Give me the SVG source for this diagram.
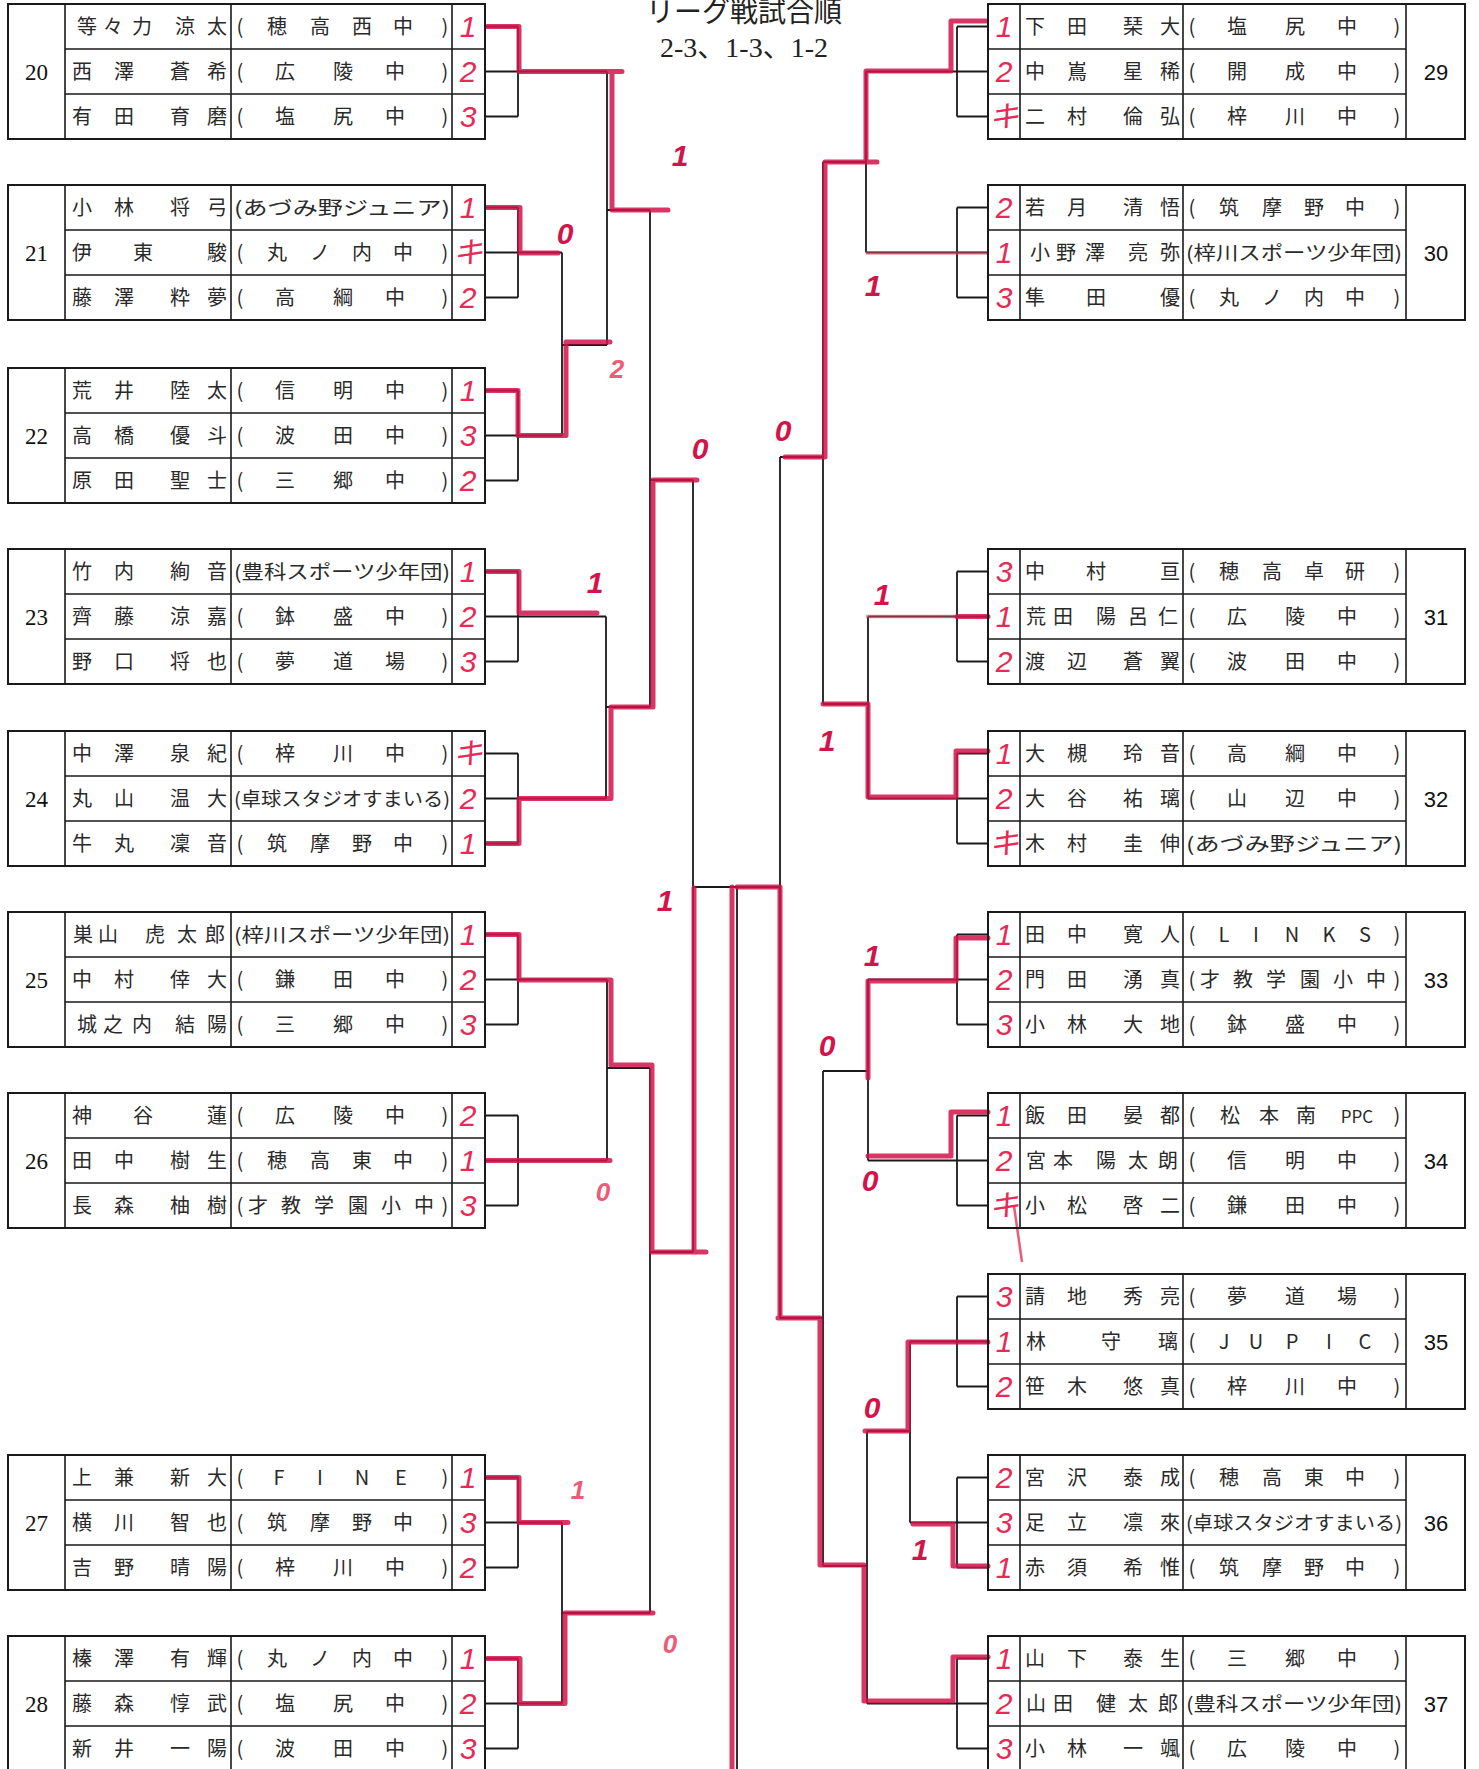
<svg xmlns="http://www.w3.org/2000/svg" xmlns:xlink="http://www.w3.org/1999/xlink" width="1479" height="1769" viewBox="0 0 1479 1769">
<style>
.tb{fill:none;stroke:#1a1a1a;stroke-width:2}
.ln{fill:none;stroke:#1a1a1a;stroke-width:1.6}
.nm{font-family:"Noto Sans CJK JP","Noto Sans CJK SC",sans-serif;font-size:20px;fill:#2a2a2a;text-anchor:middle}
.lg{font-family:"Noto Sans CJK JP","Noto Sans CJK SC",sans-serif;font-size:19px;fill:#2a2a2a}
.nl{font-family:"Liberation Serif",serif;font-size:23px;fill:#111;text-anchor:middle}
.nr{font-family:"Liberation Sans",sans-serif;font-size:22px;fill:#111;text-anchor:middle}
.sc{font-family:"Liberation Sans","Noto Sans CJK JP",sans-serif;font-size:30px;font-style:italic;fill:#e62a55;text-anchor:middle}
.lb{font-family:"Liberation Sans",sans-serif;font-size:30px;font-weight:bold;font-style:italic;fill:#d3134a;text-anchor:middle}
.lp{font-family:"Liberation Sans",sans-serif;font-size:26px;font-weight:bold;font-style:italic;fill:#ec5b78;text-anchor:middle}
.br{fill:none;stroke:#1a1a1a;stroke-width:1.8}
.rd{fill:none;stroke:#d3134a;stroke-width:5;stroke-linejoin:round;stroke-linecap:round;opacity:.85}
.rt{fill:none;stroke:#d84a5e;stroke-width:3.5;opacity:.55}
.ttl{font-family:"Noto Sans CJK JP",sans-serif;font-size:28px;fill:#222;text-anchor:middle}
.ttn{font-family:"Liberation Serif","Noto Sans CJK JP",serif;font-size:28px;fill:#222;text-anchor:middle}
</style>
<defs>
<g id="frameL"><rect class="tb" x="8" y="0" width="477" height="135"/><path class="ln" d="M65,0V135M231,0V135M452,0V135M65,45H485M65,90H485"/></g>
<g id="frameR"><rect class="tb" x="988" y="0" width="477" height="135"/><path class="ln" d="M1020,0V135M1183,0V135M1406,0V135M988,45H1406M988,90H1406"/></g>
</defs>
<rect width="1479" height="1769" fill="#fff"/>
<g id="title">
<text class="ttl" x="744" y="22">リーグ戦試合順</text>
<text class="ttn" x="744" y="57">2-3、1-3、1-2</text>
</g>

<g id="connectors">
<path class="br" d="M485,26.5H518M485,71.5H518M485,116.5H518M518,26.5V116.5
M485,207.5H518M485,252.5H518M485,297.5H518M518,207.5V297.5
M485,390.5H518M485,435.5H518M485,480.5H518M518,390.5V480.5
M485,571.5H518M485,616.5H518M485,661.5H518M518,571.5V661.5
M485,753.5H518M485,798.5H518M485,843.5H518M518,753.5V843.5
M485,934.5H518M485,979.5H518M485,1024.5H518M518,934.5V1024.5
M485,1115.5H518M485,1160.5H518M485,1205.5H518M518,1115.5V1205.5
M485,1477.5H518M485,1522.5H518M485,1567.5H518M518,1477.5V1567.5
M485,1658.5H518M485,1703.5H518M485,1748.5H518M518,1658.5V1748.5"/>
<path class="br" d="M957,26.5H988M957,71.5H988M957,116.5H988M957,26.5V116.5
M957,207.5H988M957,252.5H988M957,297.5H988M957,207.5V297.5
M957,571.5H988M957,616.5H988M957,661.5H988M957,571.5V661.5
M957,753.5H988M957,798.5H988M957,843.5H988M957,753.5V843.5
M957,934.5H988M957,979.5H988M957,1024.5H988M957,934.5V1024.5
M957,1115.5H988M957,1160.5H988M957,1205.5H988M957,1115.5V1205.5
M957,1296.5H988M957,1341.5H988M957,1386.5H988M957,1296.5V1386.5
M957,1477.5H988M957,1522.5H988M957,1567.5H988M957,1477.5V1567.5
M957,1658.5H988M957,1703.5H988M957,1748.5H988M957,1658.5V1748.5"/>
<path class="br" d="M518,71.5H607M518,252.5H562M518,435.5H562M562,252.5V435.5M562,345H607M607,71.5V345M607,210H650
M518,616.5H606M518,798.5H606M606,616.5V798.5M606,707H650M650,210V707M650,480H693
M518,979.5H607M518,1160.5H607M607,979.5V1160.5M607,1068H650
M518,1522.5H562M518,1703.5H562M562,1522.5V1703.5M562,1613H650M650,1068V1613M650,1252H693
M693,480V1252M693,887H780M737,887V1769"/>
<path class="br" d="M957,71.5H866M957,252.5H866M866,71.5V252.5M866,162H823
M957,616.5H868M957,798.5H868M868,616.5V798.5M868,704H823M823,162V704M823,457H780
M957,979.5H868M957,1160.5H868M868,979.5V1160.5M868,1071H823
M957,1341.5H910M957,1522.5H910M910,1341.5V1522.5M910,1431H867
M957,1703.5H867M867,1431V1703.5M867,1566H823M823,1071V1566M823,1318H780M780,457V1318"/>
</g>

<g id="results">
<path class="rd" d="M487,26.5H519V71.5H622M612,72V210H668"/>
<path class="rd" d="M487,207.5H520V253H558"/>
<path class="rd" d="M487,390.5H518V435.5H566V342H610"/>
<path class="rd" d="M487,571.5H519V613H597"/>
<path class="rd" d="M487,843.5H519V798.5H611V707H653V480H697"/>
<path class="rd" d="M487,934.5H519V980H611V1065H652V1252H706M694,1252V888"/>
<path class="rd" d="M487,1160.5H610"/>
<path class="rd" d="M487,1477.5H519V1522.5H568"/>
<path class="rd" d="M487,1658.5H520V1703.5H565V1613H653"/>
<path class="rd" d="M986,21H951V71H866V162H825V457H785M866,162H877"/>
<path class="rt" d="M866,253H988"/>
<path class="rt" d="M866,616.5H957"/>
<path class="rd" d="M988,616.5H957"/>
<path class="rd" d="M988,751H956V797H868V704H823"/>
<path class="rd" d="M988,938H956V981H868V1078"/>
<path class="rd" d="M988,1112H951V1156H868"/>
<path class="rd" d="M988,1342H908V1431H865"/>
<path class="rd" d="M988,1566H953V1524H913"/>
<path class="rd" d="M988,1657H953V1701H864V1565H820V1318H778M780,1318V887H737M732,887V1769"/>
<path d="M1014,1206L1022,1262" stroke="#ec5b78" stroke-width="2.5" fill="none"/>
</g>

<g id="labels">
<text class="lb" x="680" y="166">1</text>
<text class="lb" x="565" y="244">0</text>
<text class="lp" x="617" y="378">2</text>
<text class="lb" x="700" y="459">0</text>
<text class="lb" x="595" y="593">1</text>
<text class="lb" x="665" y="911">1</text>
<text class="lp" x="603" y="1201">0</text>
<text class="lp" x="578" y="1499">1</text>
<text class="lp" x="670" y="1653">0</text>
<text class="lb" x="873" y="296">1</text>
<text class="lb" x="783" y="441">0</text>
<text class="lb" x="882" y="605">1</text>
<text class="lb" x="827" y="751">1</text>
<text class="lb" x="872" y="966">1</text>
<text class="lb" x="827" y="1056">0</text>
<text class="lb" x="870" y="1191">0</text>
<text class="lb" x="872" y="1418">0</text>
<text class="lb" x="920" y="1560">1</text>
</g>

<g id="t20" transform="translate(0,4)">
<use xlink:href="#frameL"/>
<text class="nl" x="36.5" y="75.5">20</text>
<text class="nm" x="87 113 142 185 217" y="29.5">等々力涼太</text>
<text class="nm" x="82 124 180 217" y="74.5">西澤蒼希</text>
<text class="nm" x="82 124 180 217" y="119.5">有田育磨</text>
<text class="nm" x="240 277 320 362 403 445" y="29.5">(穂高西中)</text>
<text class="nm" x="240 285 343 395 445" y="74.5">(広陵中)</text>
<text class="nm" x="240 285 343 395 445" y="119.5">(塩尻中)</text>
<text class="sc" x="468" y="33">1</text><text class="sc" x="468" y="78">2</text><text class="sc" x="468" y="123">3</text>
</g>

<g id="t21" transform="translate(0,185)">
<use xlink:href="#frameL"/>
<text class="nl" x="36.5" y="75.5">21</text>
<text class="nm" x="82 124 180 217" y="29.5">小林将弓</text>
<text class="nm" x="82 143 217" y="74.5">伊東駿</text>
<text class="nm" x="82 124 180 217" y="119.5">藤澤粋夢</text>
<text class="lg" x="234" y="29.5" textLength="216" lengthAdjust="spacingAndGlyphs">(あづみ野ジュニア)</text>
<text class="nm" x="240 277 320 362 403 445" y="74.5">(丸ノ内中)</text>
<text class="nm" x="240 285 343 395 445" y="119.5">(高綱中)</text>
<text class="sc" x="468" y="33">1</text><text class="sc" x="468" y="78">キ</text><text class="sc" x="468" y="123">2</text>
</g>

<g id="t22" transform="translate(0,368)">
<use xlink:href="#frameL"/>
<text class="nl" x="36.5" y="75.5">22</text>
<text class="nm" x="82 124 180 217" y="29.5">荒井陸太</text>
<text class="nm" x="82 124 180 217" y="74.5">高橋優斗</text>
<text class="nm" x="82 124 180 217" y="119.5">原田聖士</text>
<text class="nm" x="240 285 343 395 445" y="29.5">(信明中)</text>
<text class="nm" x="240 285 343 395 445" y="74.5">(波田中)</text>
<text class="nm" x="240 285 343 395 445" y="119.5">(三郷中)</text>
<text class="sc" x="468" y="33">1</text><text class="sc" x="468" y="78">3</text><text class="sc" x="468" y="123">2</text>
</g>

<g id="t23" transform="translate(0,549)">
<use xlink:href="#frameL"/>
<text class="nl" x="36.5" y="75.5">23</text>
<text class="nm" x="82 124 180 217" y="29.5">竹内絢音</text>
<text class="nm" x="82 124 180 217" y="74.5">齊藤涼嘉</text>
<text class="nm" x="82 124 180 217" y="119.5">野口将也</text>
<text class="lg" x="234" y="29.5" textLength="216" lengthAdjust="spacingAndGlyphs">(豊科スポーツ少年団)</text>
<text class="nm" x="240 285 343 395 445" y="74.5">(鉢盛中)</text>
<text class="nm" x="240 285 343 395 445" y="119.5">(夢道場)</text>
<text class="sc" x="468" y="33">1</text><text class="sc" x="468" y="78">2</text><text class="sc" x="468" y="123">3</text>
</g>

<g id="t24" transform="translate(0,731)">
<use xlink:href="#frameL"/>
<text class="nl" x="36.5" y="75.5">24</text>
<text class="nm" x="82 124 180 217" y="29.5">中澤泉紀</text>
<text class="nm" x="82 124 180 217" y="74.5">丸山温大</text>
<text class="nm" x="82 124 180 217" y="119.5">牛丸凜音</text>
<text class="nm" x="240 285 343 395 445" y="29.5">(梓川中)</text>
<text class="lg" x="234" y="74.5" textLength="216" lengthAdjust="spacingAndGlyphs">(卓球スタジオすまいる)</text>
<text class="nm" x="240 277 320 362 403 445" y="119.5">(筑摩野中)</text>
<text class="sc" x="468" y="33">キ</text><text class="sc" x="468" y="78">2</text><text class="sc" x="468" y="123">1</text>
</g>

<g id="t25" transform="translate(0,912)">
<use xlink:href="#frameL"/>
<text class="nl" x="36.5" y="75.5">25</text>
<text class="nm" x="83 108 155 187 215" y="29.5">巣山虎太郎</text>
<text class="nm" x="82 124 180 217" y="74.5">中村倖大</text>
<text class="nm" x="87 113 142 185 217" y="119.5">城之内結陽</text>
<text class="lg" x="234" y="29.5" textLength="216" lengthAdjust="spacingAndGlyphs">(梓川スポーツ少年団)</text>
<text class="nm" x="240 285 343 395 445" y="74.5">(鎌田中)</text>
<text class="nm" x="240 285 343 395 445" y="119.5">(三郷中)</text>
<text class="sc" x="468" y="33">1</text><text class="sc" x="468" y="78">2</text><text class="sc" x="468" y="123">3</text>
</g>

<g id="t26" transform="translate(0,1093)">
<use xlink:href="#frameL"/>
<text class="nl" x="36.5" y="75.5">26</text>
<text class="nm" x="82 143 217" y="29.5">神谷蓮</text>
<text class="nm" x="82 124 180 217" y="74.5">田中樹生</text>
<text class="nm" x="82 124 180 217" y="119.5">長森柚樹</text>
<text class="nm" x="240 285 343 395 445" y="29.5">(広陵中)</text>
<text class="nm" x="240 277 320 362 403 445" y="74.5">(穂高東中)</text>
<text class="nm" x="240 258 291 324 358 391 424 445" y="119.5">(才教学園小中)</text>
<text class="sc" x="468" y="33">2</text><text class="sc" x="468" y="78">1</text><text class="sc" x="468" y="123">3</text>
</g>

<g id="t27" transform="translate(0,1455)">
<use xlink:href="#frameL"/>
<text class="nl" x="36.5" y="75.5">27</text>
<text class="nm" x="82 124 180 217" y="29.5">上兼新大</text>
<text class="nm" x="82 124 180 217" y="74.5">横川智也</text>
<text class="nm" x="82 124 180 217" y="119.5">吉野晴陽</text>
<text class="nm" x="240 279 320 362 401 445" y="29.5">(FINE)</text>
<text class="nm" x="240 277 320 362 403 445" y="74.5">(筑摩野中)</text>
<text class="nm" x="240 285 343 395 445" y="119.5">(梓川中)</text>
<text class="sc" x="468" y="33">1</text><text class="sc" x="468" y="78">3</text><text class="sc" x="468" y="123">2</text>
</g>

<g id="t28" transform="translate(0,1636)">
<use xlink:href="#frameL"/>
<text class="nl" x="36.5" y="75.5">28</text>
<text class="nm" x="82 124 180 217" y="29.5">榛澤有輝</text>
<text class="nm" x="82 124 180 217" y="74.5">藤森惇武</text>
<text class="nm" x="82 124 180 217" y="119.5">新井一陽</text>
<text class="nm" x="240 277 320 362 403 445" y="29.5">(丸ノ内中)</text>
<text class="nm" x="240 285 343 395 445" y="74.5">(塩尻中)</text>
<text class="nm" x="240 285 343 395 445" y="119.5">(波田中)</text>
<text class="sc" x="468" y="33">1</text><text class="sc" x="468" y="78">2</text><text class="sc" x="468" y="123">3</text>
</g>

<g id="t29" transform="translate(0,4)">
<use xlink:href="#frameR"/>
<text class="nr" x="1436" y="75.5">29</text>
<text class="nm" x="1035 1077 1133 1170" y="29.5">下田琹大</text>
<text class="nm" x="1035 1077 1133 1170" y="74.5">中嶌星稀</text>
<text class="nm" x="1035 1077 1133 1170" y="119.5">二村倫弘</text>
<text class="nm" x="1192 1237 1295 1347 1397" y="29.5">(塩尻中)</text>
<text class="nm" x="1192 1237 1295 1347 1397" y="74.5">(開成中)</text>
<text class="nm" x="1192 1237 1295 1347 1397" y="119.5">(梓川中)</text>
<text class="sc" x="1004" y="33">1</text><text class="sc" x="1004" y="78">2</text><text class="sc" x="1004" y="123">キ</text>
</g>

<g id="t30" transform="translate(0,185)">
<use xlink:href="#frameR"/>
<text class="nr" x="1436" y="75.5">30</text>
<text class="nm" x="1035 1077 1133 1170" y="29.5">若月清悟</text>
<text class="nm" x="1040 1066 1095 1138 1170" y="74.5">小野澤亮弥</text>
<text class="nm" x="1035 1096 1170" y="119.5">隼田優</text>
<text class="nm" x="1192 1229 1272 1314 1355 1397" y="29.5">(筑摩野中)</text>
<text class="lg" x="1186" y="74.5" textLength="216" lengthAdjust="spacingAndGlyphs">(梓川スポーツ少年団)</text>
<text class="nm" x="1192 1229 1272 1314 1355 1397" y="119.5">(丸ノ内中)</text>
<text class="sc" x="1004" y="33">2</text><text class="sc" x="1004" y="78">1</text><text class="sc" x="1004" y="123">3</text>
</g>

<g id="t31" transform="translate(0,549)">
<use xlink:href="#frameR"/>
<text class="nr" x="1436" y="75.5">31</text>
<text class="nm" x="1035 1096 1170" y="29.5">中村亘</text>
<text class="nm" x="1036 1063 1106 1138 1168" y="74.5">荒田陽呂仁</text>
<text class="nm" x="1035 1077 1133 1170" y="119.5">渡辺蒼翼</text>
<text class="nm" x="1192 1229 1272 1314 1355 1397" y="29.5">(穂高卓研)</text>
<text class="nm" x="1192 1237 1295 1347 1397" y="74.5">(広陵中)</text>
<text class="nm" x="1192 1237 1295 1347 1397" y="119.5">(波田中)</text>
<text class="sc" x="1004" y="33">3</text><text class="sc" x="1004" y="78">1</text><text class="sc" x="1004" y="123">2</text>
</g>

<g id="t32" transform="translate(0,731)">
<use xlink:href="#frameR"/>
<text class="nr" x="1436" y="75.5">32</text>
<text class="nm" x="1035 1077 1133 1170" y="29.5">大槻玲音</text>
<text class="nm" x="1035 1077 1133 1170" y="74.5">大谷祐璃</text>
<text class="nm" x="1035 1077 1133 1170" y="119.5">木村圭伸</text>
<text class="nm" x="1192 1237 1295 1347 1397" y="29.5">(高綱中)</text>
<text class="nm" x="1192 1237 1295 1347 1397" y="74.5">(山辺中)</text>
<text class="lg" x="1186" y="119.5" textLength="216" lengthAdjust="spacingAndGlyphs">(あづみ野ジュニア)</text>
<text class="sc" x="1004" y="33">1</text><text class="sc" x="1004" y="78">2</text><text class="sc" x="1004" y="123">キ</text>
</g>

<g id="t33" transform="translate(0,912)">
<use xlink:href="#frameR"/>
<text class="nr" x="1436" y="75.5">33</text>
<text class="nm" x="1035 1077 1133 1170" y="29.5">田中寛人</text>
<text class="nm" x="1035 1077 1133 1170" y="74.5">門田湧真</text>
<text class="nm" x="1035 1077 1133 1170" y="119.5">小林大地</text>
<text class="nm" x="1192 1224 1256 1292 1329 1365 1397" y="29.5">(LINKS)</text>
<text class="nm" x="1192 1210 1243 1276 1310 1343 1376 1397" y="74.5">(才教学園小中)</text>
<text class="nm" x="1192 1237 1295 1347 1397" y="119.5">(鉢盛中)</text>
<text class="sc" x="1004" y="33">1</text><text class="sc" x="1004" y="78">2</text><text class="sc" x="1004" y="123">3</text>
</g>

<g id="t34" transform="translate(0,1093)">
<use xlink:href="#frameR"/>
<text class="nr" x="1436" y="75.5">34</text>
<text class="nm" x="1035 1077 1133 1170" y="29.5">飯田晏都</text>
<text class="nm" x="1036 1063 1106 1138 1168" y="74.5">宮本陽太朗</text>
<text class="nm" x="1035 1077 1133 1170" y="119.5">小松啓二</text>
<text class="nm" y="29.5"><tspan x="1192">(</tspan><tspan x="1230">松</tspan><tspan x="1269">本</tspan><tspan x="1306">南</tspan><tspan x="1357" style="font-size:17px">PPC</tspan><tspan x="1397">)</tspan></text>
<text class="nm" x="1192 1237 1295 1347 1397" y="74.5">(信明中)</text>
<text class="nm" x="1192 1237 1295 1347 1397" y="119.5">(鎌田中)</text>
<text class="sc" x="1004" y="33">1</text><text class="sc" x="1004" y="78">2</text><text class="sc" x="1004" y="123">キ</text>
</g>

<g id="t35" transform="translate(0,1274)">
<use xlink:href="#frameR"/>
<text class="nr" x="1436" y="75.5">35</text>
<text class="nm" x="1035 1077 1133 1170" y="29.5">請地秀亮</text>
<text class="nm" x="1036 1111 1168" y="74.5">林守璃</text>
<text class="nm" x="1035 1077 1133 1170" y="119.5">笹木悠真</text>
<text class="nm" x="1192 1237 1295 1347 1397" y="29.5">(夢道場)</text>
<text class="nm" x="1192 1224 1256 1292 1329 1365 1397" y="74.5">(JUPIC)</text>
<text class="nm" x="1192 1237 1295 1347 1397" y="119.5">(梓川中)</text>
<text class="sc" x="1004" y="33">3</text><text class="sc" x="1004" y="78">1</text><text class="sc" x="1004" y="123">2</text>
</g>

<g id="t36" transform="translate(0,1455)">
<use xlink:href="#frameR"/>
<text class="nr" x="1436" y="75.5">36</text>
<text class="nm" x="1035 1077 1133 1170" y="29.5">宮沢泰成</text>
<text class="nm" x="1035 1077 1133 1170" y="74.5">足立凛來</text>
<text class="nm" x="1035 1077 1133 1170" y="119.5">赤須希惟</text>
<text class="nm" x="1192 1229 1272 1314 1355 1397" y="29.5">(穂高東中)</text>
<text class="lg" x="1186" y="74.5" textLength="216" lengthAdjust="spacingAndGlyphs">(卓球スタジオすまいる)</text>
<text class="nm" x="1192 1229 1272 1314 1355 1397" y="119.5">(筑摩野中)</text>
<text class="sc" x="1004" y="33">2</text><text class="sc" x="1004" y="78">3</text><text class="sc" x="1004" y="123">1</text>
</g>

<g id="t37" transform="translate(0,1636)">
<use xlink:href="#frameR"/>
<text class="nr" x="1436" y="75.5">37</text>
<text class="nm" x="1035 1077 1133 1170" y="29.5">山下泰生</text>
<text class="nm" x="1036 1063 1106 1138 1168" y="74.5">山田健太郎</text>
<text class="nm" x="1035 1077 1133 1170" y="119.5">小林一颯</text>
<text class="nm" x="1192 1237 1295 1347 1397" y="29.5">(三郷中)</text>
<text class="lg" x="1186" y="74.5" textLength="216" lengthAdjust="spacingAndGlyphs">(豊科スポーツ少年団)</text>
<text class="nm" x="1192 1237 1295 1347 1397" y="119.5">(広陵中)</text>
<text class="sc" x="1004" y="33">1</text><text class="sc" x="1004" y="78">2</text><text class="sc" x="1004" y="123">3</text>
</g>
</svg>
